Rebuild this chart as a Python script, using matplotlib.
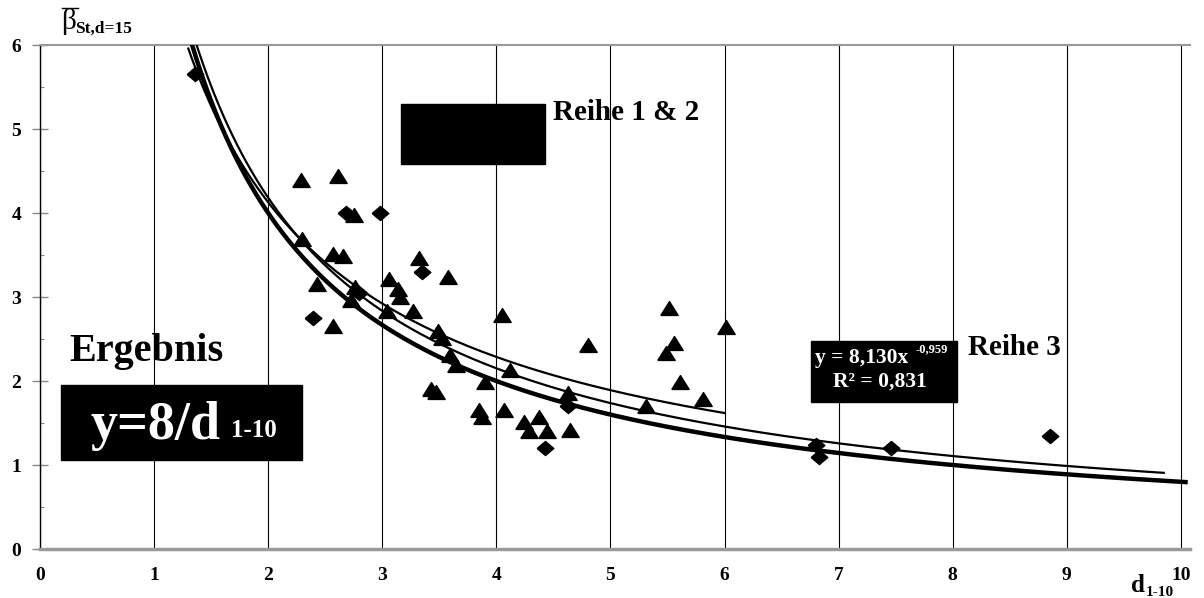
import numpy as np
import matplotlib
matplotlib.use('Agg')
import matplotlib.pyplot as plt
from matplotlib.patches import Rectangle
from matplotlib.lines import Line2D

plt.rcParams['font.family'] = ['Liberation Serif', 'DejaVu Serif']
plt.rcParams['font.weight'] = 'bold'

# Reihe 1 & 2 (triangles)
tri_x = [2.285, 2.615, 2.75, 2.30, 2.57, 2.66, 2.425, 2.76, 2.73, 2.565,
         3.06, 3.04, 3.325, 3.58, 3.14, 3.155, 3.27, 3.49, 3.52, 3.59,
         3.65, 4.05, 4.12, 3.90, 3.43, 3.47, 3.85, 3.87, 4.07, 4.24,
         4.29, 4.37, 4.44, 4.645, 4.63, 4.805, 5.515, 6.01, 5.556, 5.486,
         5.61, 5.81, 5.31]
tri_y = [4.39, 4.44, 3.98, 3.69, 3.51, 3.49, 3.16, 3.12, 2.97, 2.65,
         3.22, 2.83, 3.46, 3.24, 3.10, 3.00, 2.83, 2.59, 2.51, 2.31,
         2.19, 2.79, 2.13, 1.99, 1.91, 1.87, 1.65, 1.575, 1.655, 1.515,
         1.40, 1.575, 1.40, 1.42, 1.86, 2.43, 2.865, 2.64, 2.45, 2.33,
         1.99, 1.79, 1.70]

# Reihe 3 (diamonds)
dia_x = [1.36, 2.68, 2.98, 2.395, 2.80, 3.345, 4.43, 4.63, 6.80, 6.83, 7.46, 8.85]
dia_y = [5.66, 4.00, 4.00, 2.75, 3.05, 3.30, 1.20, 1.70, 1.24, 1.09, 1.20, 1.345]

# trend lines y = a * x^b  (a, b, x_start, x_end)
ergebnis = (8.0, -1.0, 1.28, 10.06)
reihe3_fit = (8.130, -0.959, 1.3, 9.85)
reihe12_fit = (7.45, -0.852, 1.3, 6.0)

xticks = list(range(0, 11))
yticks = list(range(0, 7))


def power_curve(a, b, x0, x1):
    x = np.linspace(x0, x1, 400)
    return x, a * x ** b


fig = plt.figure(figsize=(12.04, 5.98), dpi=100)
ax = fig.add_axes([40 / 1204, 1 - 549 / 598, 1150 / 1204, 504 / 598])
ax.set_xlim(0, 10.08)
ax.set_ylim(0, 6)

ax.set_xticks(xticks)
ax.set_yticks(yticks)
ax.set_yticks(np.arange(0.5, 6, 1), minor=True)
ax.xaxis.grid(True, color='black', lw=0.8)
ax.set_axisbelow(True)

ax.tick_params(axis='x', length=0, pad=13, labelsize=14)
ax.tick_params(axis='y', which='major', direction='inout', length=11, width=1,
               color='#888888', pad=8, labelsize=14)
ax.tick_params(axis='y', which='minor', direction='in', length=3, width=0.8,
               color='#888888')

ax.spines['left'].set_color('black')
ax.spines['left'].set_linewidth(1)
ax.spines['bottom'].set_color('#999999')
ax.spines['bottom'].set_linewidth(2.5)
ax.spines['top'].set_color('#999999')
ax.spines['top'].set_linewidth(1.5)
ax.spines['right'].set_visible(False)

# curves
x, y = power_curve(*ergebnis)
ax.plot(x, y, color='black', lw=3.2, zorder=3, solid_capstyle='butt')
x, y = power_curve(*reihe3_fit)
ax.plot(x, y, color='black', lw=1.6, zorder=3)
x, y = power_curve(*reihe12_fit)
ax.plot(x, y, color='black', lw=1.6, zorder=3)

tri_marker = [(-1, -0.8), (1, -0.8), (0, 0.8), (-1, -0.8)]
dia_marker = [(-1, 0), (0, 0.85), (1, 0), (0, -0.85), (-1, 0)]
ax.plot(tri_x, tri_y, ls='none', marker=tri_marker, ms=12.5, color='black', zorder=4)
ax.plot(dia_x, dia_y, ls='none', marker=dia_marker, ms=12, color='black', zorder=4)

# boxes and labels
ax.add_patch(Rectangle((3.16, 4.58), 1.27, 0.72, fc='black', ec='black', zorder=5))
ax.text(4.50, 5.107, 'Reihe 1 & 2', fontsize=21, ha='left', va='baseline', zorder=6)

ax.add_patch(Rectangle((6.76, 1.75), 1.28, 0.73, fc='black', ec='black', zorder=5))
ax.text(6.79, 2.21, 'y = 8,130x', fontsize=15.5, color='white', ha='left', va='baseline', zorder=6)
ax.text(7.67, 2.34, '-0,959', fontsize=9, color='white', ha='left', va='baseline', zorder=6)
ax.text(6.95, 1.93, 'R² = 0,831', fontsize=15.5, color='white', ha='left', va='baseline', zorder=6)
ax.text(8.13, 2.31, 'Reihe 3', fontsize=21, ha='left', va='baseline', zorder=6)

ax.text(0.26, 2.24, 'Ergebnis', fontsize=29, ha='left', va='baseline', zorder=6)
ax.add_patch(Rectangle((0.18, 1.06), 2.12, 0.89, fc='black', ec='black', zorder=5))
ax.text(0.44, 1.31, 'y=8/d', fontsize=39, color='white', ha='left', va='baseline', zorder=6)
ax.text(1.67, 1.33, '1-10', fontsize=18, color='white', ha='left', va='baseline', zorder=6)

# axis titles
fig.text(61 / 1204, 1 - 29 / 598, 'β', fontsize=21, fontweight='normal', ha='left', va='baseline')
fig.add_artist(Line2D([62 / 1204, 78 / 1204], [1 - 8 / 598, 1 - 8 / 598], color='black', lw=1))
fig.text(75 / 1204, 1 - 33 / 598, 'St,d=15', fontsize=12.5, ha='left', va='baseline')
fig.text(1131 / 1204, 1 - 592 / 598, 'd', fontsize=18, ha='left', va='baseline')
fig.text(1146 / 1204, 1 - 596 / 598, '1-10', fontsize=11, ha='left', va='baseline')

fig.savefig('out.png', dpi=100)
